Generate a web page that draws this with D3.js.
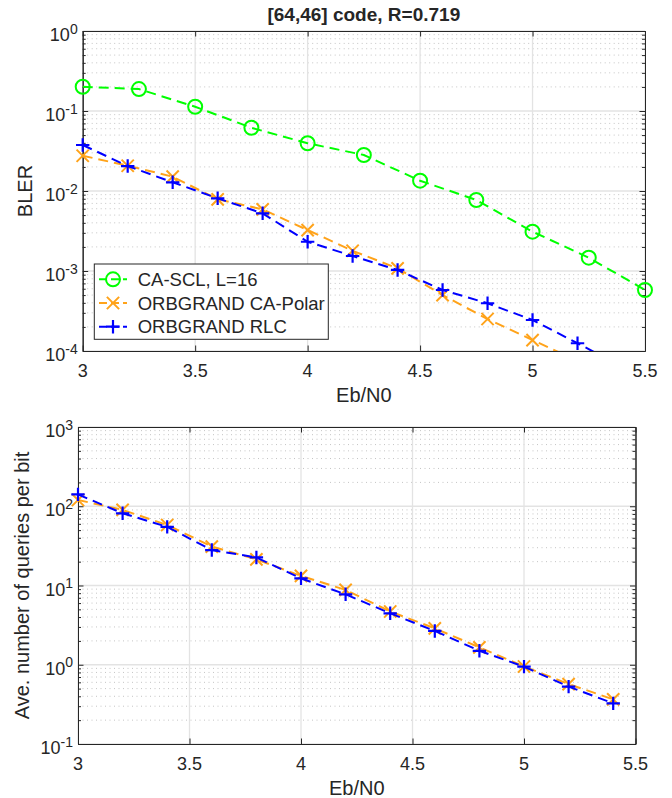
<!DOCTYPE html>
<html>
<head>
<meta charset="utf-8">
<script src="https://cdn.jsdelivr.net/npm/d3@7"></script>
<style>
  html, body { margin: 0; padding: 0; background: #fff; }
  svg { display: block; }
  text { font-family: "Liberation Sans", Arial, Helvetica, sans-serif; fill: #262626; }
</style>
</head>
<body>
<svg id="chart" width="672" height="798"></svg>
<script>
// ---------------- Data ----------------
const titleText = "[64,46] code, R=0.719";
const xLabel = "Eb/N0";
const blerLabel = "BLER";
const queriesLabel = "Ave. number of queries per bit";

const xTicks = [3, 3.5, 4, 4.5, 5, 5.5];
const xTickLabels = ["3", "3.5", "4", "4.5", "5", "5.5"];
const blerTickExps = [0, -1, -2, -3, -4];
const queryTickExps = [3, 2, 1, 0, -1];

const seriesNames = ["CA-SCL, L=16", "ORBGRAND CA-Polar", "ORBGRAND RLC"];

// BLER panel
const sclEbN0 = [3, 3.25, 3.5, 3.75, 4, 4.25, 4.5, 4.75, 5, 5.25, 5.5];
const sclBler = [0.201, 0.188, 0.113, 0.0618, 0.0395, 0.0282, 0.01345, 0.00772, 0.0031, 0.001466, 0.000579];

const polarEbN0 = [3, 3.2, 3.4, 3.6, 3.8, 4, 4.2, 4.4, 4.6, 4.8, 5, 5.2];
const polarBler = [0.0276, 0.0207, 0.0151, 0.00787, 0.0059, 0.00325, 0.00179, 0.00108, 0.0005, 0.000251, 0.000137, 0.000075];

const rlcEbN0 = [3, 3.2, 3.4, 3.6, 3.8, 4, 4.2, 4.4, 4.6, 4.8, 5, 5.2, 5.4];
const rlcBler = [0.0376, 0.0205, 0.01285, 0.0081, 0.00526, 0.00232, 0.00154, 0.00103, 0.000579, 0.000395, 0.000244, 0.000125, 0.000063];

// Queries panel
const queryEbN0 = [3, 3.2, 3.4, 3.6, 3.8, 4, 4.2, 4.4, 4.6, 4.8, 5, 5.2, 5.4];
const polarQueries = [120, 90, 58, 31, 21.4, 13.2, 8.8, 4.7, 2.88, 1.66, 0.95, 0.57, 0.366];
const rlcQueries = [141, 81.5, 55, 28, 22.6, 12.3, 7.74, 4.46, 2.67, 1.5, 0.946, 0.53, 0.326];

// ---------------- Styles ----------------
const COLORS = { green: "#00ff00", orange: "#ffa31a", blue: "#0000ff" };
const AXIS = "#262626";
const TICK_FONT = 18;
const LABEL_FONT = 20;

const svg = d3.select("#chart");

function zipPts(xs, ys) { return xs.map((x, i) => ({ x, y: ys[i] })); }

function drawMarker(g, type, color, cx, cy, size) {
  if (type === "o") {
    g.append("circle").attr("cx", cx).attr("cy", cy).attr("r", size)
      .attr("fill", "none").attr("stroke", color).attr("stroke-width", 2);
  } else if (type === "x") {
    const s = size * 0.72;
    g.append("path").attr("d", `M${cx - s},${cy - s}L${cx + s},${cy + s}M${cx - s},${cy + s}L${cx + s},${cy - s}`)
      .attr("stroke", color).attr("stroke-width", 2).attr("fill", "none");
  } else {
    g.append("path").attr("d", `M${cx - size},${cy}L${cx + size},${cy}M${cx},${cy - size}L${cx},${cy + size}`)
      .attr("stroke", color).attr("stroke-width", 2.2).attr("fill", "none");
  }
}

function drawPanel(cfg) {
  const { left, right, top, bottom, yMinExp, yMaxExp, tickExps, series, id } = cfg;
  const x = d3.scaleLinear().domain([3, 5.5]).range([left, right]);
  const y = d3.scaleLog().domain([Math.pow(10, yMinExp), Math.pow(10, yMaxExp)]).range([bottom, top]);
  const g = svg.append("g");

  const minors = [];
  for (let e = yMinExp; e < yMaxExp; e++) {
    for (let k = 2; k <= 9; k++) minors.push(k * Math.pow(10, e));
  }
  const majors = tickExps.map(e => Math.pow(10, e));

  g.append("g").selectAll("line").data(minors).join("line")
    .attr("x1", left).attr("x2", right)
    .attr("y1", d => y(d)).attr("y2", d => y(d))
    .attr("stroke", "#c4c4c4").attr("stroke-width", 1).attr("stroke-dasharray", "1,3.5");
  g.append("g").selectAll("line").data(majors).join("line")
    .attr("x1", left).attr("x2", right)
    .attr("y1", d => y(d)).attr("y2", d => y(d))
    .attr("stroke", "#e3e3e3").attr("stroke-width", 1.3);
  g.append("g").selectAll("line").data(xTicks).join("line")
    .attr("x1", d => x(d)).attr("x2", d => x(d))
    .attr("y1", top).attr("y2", bottom)
    .attr("stroke", "#e3e3e3").attr("stroke-width", 1.3);

  const axB = d3.axisBottom(x).tickValues(xTicks).tickSizeInner(-5.5).tickSizeOuter(0).tickFormat("");
  const axT = d3.axisTop(x).tickValues(xTicks).tickSizeInner(-5.5).tickSizeOuter(0).tickFormat("");
  const axL = d3.axisLeft(y).tickValues(majors).tickSizeInner(-5.5).tickSizeOuter(0).tickFormat("");
  const axR = d3.axisRight(y).tickValues(majors).tickSizeInner(-5.5).tickSizeOuter(0).tickFormat("");
  const axLm = d3.axisLeft(y).tickValues(minors).tickSizeInner(-3).tickSizeOuter(0).tickFormat("");
  const axRm = d3.axisRight(y).tickValues(minors).tickSizeInner(-3).tickSizeOuter(0).tickFormat("");
  const axes = [
    [axB, `translate(0,${bottom})`], [axT, `translate(0,${top})`],
    [axL, `translate(${left},0)`], [axR, `translate(${right},0)`],
    [axLm, `translate(${left},0)`], [axRm, `translate(${right},0)`]
  ];
  axes.forEach(([ax, tr]) => {
    const a = g.append("g").attr("transform", tr).call(ax);
    a.selectAll("path.domain").attr("stroke", AXIS).attr("stroke-width", 1);
    a.selectAll(".tick line").attr("stroke", AXIS).attr("stroke-width", 1);
  });

  g.append("g").selectAll("text").data(xTicks).join("text")
    .attr("x", d => x(d)).attr("y", bottom + 20)
    .attr("text-anchor", "middle").attr("dominant-baseline", "central")
    .attr("font-size", TICK_FONT)
    .text((d, i) => xTickLabels[i]);

  const yl = g.append("g").selectAll("text").data(tickExps).join("text")
    .attr("x", left - 5).attr("y", d => y(Math.pow(10, d)) + 10)
    .attr("text-anchor", "end").attr("font-size", TICK_FONT);
  yl.append("tspan").text("10");
  yl.append("tspan").attr("dy", -7.5).attr("font-size", 14).text(d => String(d));

  const clipId = "clip" + id;
  svg.append("clipPath").attr("id", clipId).append("rect")
    .attr("x", left).attr("y", top).attr("width", right - left).attr("height", bottom - top);
  const line = d3.line().x(d => x(d.x)).y(d => y(d.y));
  series.forEach(s => {
    const pts = zipPts(s.xs, s.ys);
    g.append("path").datum(pts).attr("d", line).attr("clip-path", `url(#${clipId})`)
      .attr("fill", "none").attr("stroke", s.color).attr("stroke-width", 2)
      .attr("stroke-dasharray", "10,6");
    const mg = g.append("g");
    pts.filter(p => p.x >= 3 && p.x <= 5.5 && p.y >= Math.pow(10, yMinExp) && p.y <= Math.pow(10, yMaxExp))
      .forEach(p => drawMarker(mg, s.marker, s.color, x(p.x), y(p.y), s.size));
  });

  g.append("text").attr("x", (left + right) / 2).attr("y", bottom + 44)
    .attr("text-anchor", "middle").attr("dominant-baseline", "central")
    .attr("font-size", LABEL_FONT).text(xLabel);
  g.append("text").attr("transform", `translate(${cfg.yLabelX},${(top + bottom) / 2}) rotate(-90)`)
    .attr("text-anchor", "middle").attr("dominant-baseline", "central")
    .attr("font-size", LABEL_FONT).text(cfg.yLabel);

  return { x, y, g };
}

// Top panel
drawPanel({
  id: "a", left: 82.7, right: 645, top: 31, bottom: 351,
  yMinExp: -4, yMaxExp: 0, tickExps: blerTickExps, yLabel: blerLabel, yLabelX: 25,
  series: [
    { xs: sclEbN0, ys: sclBler, color: COLORS.green, marker: "o", size: 7 },
    { xs: polarEbN0, ys: polarBler, color: COLORS.orange, marker: "x", size: 8.5 },
    { xs: rlcEbN0, ys: rlcBler, color: COLORS.blue, marker: "+", size: 6.7 }
  ]
});

svg.append("text").attr("x", (82.7 + 645) / 2).attr("y", 14)
  .attr("text-anchor", "middle").attr("dominant-baseline", "central")
  .attr("font-size", 19).attr("font-weight", "bold").text(titleText);

// Legend
const leg = svg.append("g");
leg.append("rect").attr("x", 94.3).attr("y", 264).attr("width", 234).attr("height", 75.3)
  .attr("fill", "#fff").attr("stroke", AXIS).attr("stroke-width", 1);
const legendStyles = [
  { color: COLORS.green, marker: "o", size: 7 },
  { color: COLORS.orange, marker: "x", size: 8.5 },
  { color: COLORS.blue, marker: "+", size: 6.7 }
];
seriesNames.forEach((name, i) => {
  const cy = 279.3 + i * 23.7;
  const st = legendStyles[i];
  leg.append("line").attr("x1", 99).attr("x2", 127).attr("y1", cy).attr("y2", cy)
    .attr("stroke", st.color).attr("stroke-width", 2).attr("stroke-dasharray", "8,4");
  drawMarker(leg, st.marker, st.color, 113, cy, st.size);
  leg.append("text").attr("x", 137.7).attr("y", cy).attr("dominant-baseline", "central")
    .attr("font-size", 18.5).text(name);
});

// Bottom panel
drawPanel({
  id: "b", left: 78, right: 635.5, top: 427, bottom: 744,
  yMinExp: -1, yMaxExp: 3, tickExps: queryTickExps, yLabel: queriesLabel, yLabelX: 22,
  series: [
    { xs: queryEbN0, ys: polarQueries, color: COLORS.orange, marker: "x", size: 8.5 },
    { xs: queryEbN0, ys: rlcQueries, color: COLORS.blue, marker: "+", size: 6.7 }
  ]
});
</script>
</body>
</html>
